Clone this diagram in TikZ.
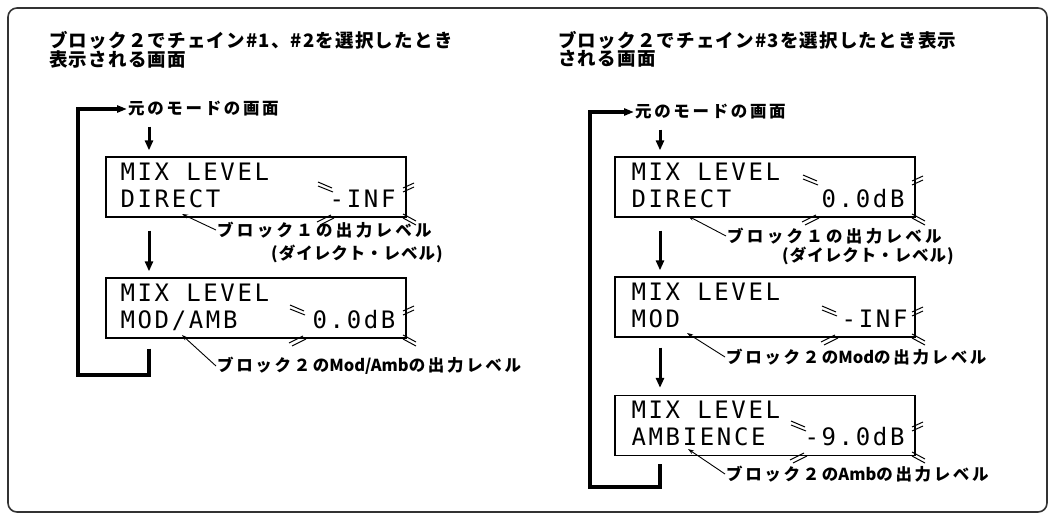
\documentclass[tikz,border=0pt]{standalone}
\usepackage{fontspec}
\usetikzlibrary{arrows.meta,calc}
\newfontfamily\jpt{Noto Sans CJK JP}[LetterSpace=6.5]
\newfontfamily\jpB{Noto Sans CJK JP}[LetterSpace=20]
\newfontfamily\jpC{Noto Sans CJK JP}[LetterSpace=16]
\newfontfamily\jpD{Noto Sans CJK JP}[LetterSpace=6]
\newfontfamily\jpN{Noto Sans CJK JP}
\newfontfamily\lcdf{DejaVu Sans Mono}[LetterSpace=11]
\newcommand\lat[1]{{\jpN\bfseries #1}}
\newcommand\vmarks[4]{%
  \draw[mk] (#1,#2) -- ++(14,6) (#1,#2+4) -- ++(15,6);
  \draw[mk] (#1-1,#3+5) -- ++(14,-7) (#1+2,#3+8) -- ++(14,-7);
  \draw[mk,line width=1.4pt] (#4,#2) -- (#4,#3);
  \draw[mk] (#4-3,#2+6) -- ++(11,-5) (#4-3,#2+10) -- ++(11,-5);
  \draw[mk] (#4-3,#3-3) -- ++(13,7) (#4-3,#3+1) -- ++(13,7);
}
\begin{document}
\begin{tikzpicture}[x=1pt,y=-1pt,
  frame/.style={draw=black!80,line width=1.6pt,rounded corners=9pt},
  title/.style={font=\jpt\bfseries\fontsize{18.5}{15}\selectfont,align=left,inner sep=0pt},
  lbl/.style={font=\jpB\bfseries\fontsize{16.5}{16}\selectfont,inner sep=1pt},
  lblc/.style={font=\jpC\bfseries\fontsize{16.5}{16}\selectfont,inner sep=1pt},
  lbld/.style={font=\jpD\bfseries\fontsize{16.5}{16}\selectfont,inner sep=1pt},
  lcdbox/.style={draw,line width=1.3pt,minimum width=300pt,minimum height=60pt,inner sep=0pt},
  lcd/.style={font=\lcdf\fontsize{24}{24}\selectfont,inner sep=0pt},
  down/.style={line width=3pt,-{Triangle[length=10pt,width=8pt]}},
  loopline/.style={line width=3.2pt,-{Triangle[length=10pt,width=7pt]}},
  annot/.style={line width=0.9pt,-{Stealth[length=6pt,width=4pt]}},
  mk/.style={line width=1pt}]
\useasboundingbox (0,0) rectangle (1055,517);
\draw[frame] (8,8) rectangle (1047,512);

% ---------- left column ----------
\node[title,anchor=north west] (tl) at (49,31) {ブロック２でチェイン\#1、\#2を選択したとき\\表示される画面};
\node[lblc,anchor=west] (ml) at (127,109) {元のモードの画面};
\node[lcdbox] (b1) at (256,187) {};
\node[lcdbox] (b2) at (256,308) {};
\node[lcd,anchor=base west] (b1a) at ($(b1.north west)+(15,24)$) {MIX LEVEL};
\node[lcd,anchor=base west] (b1b) at ($(b1.north west)+(15,51)$) {DIRECT};
\node[lcd,anchor=base east] (b1v) at ($(b1.north east)+(-11,51)$) {-INF};
\node[lcd,anchor=base west] (b2a) at ($(b2.north west)+(15,24)$) {MIX LEVEL};
\node[lcd,anchor=base west] (b2b) at ($(b2.north west)+(15,51)$) {MOD/AMB};
\node[lcd,anchor=base east] (b2v) at ($(b2.north east)+(-11,51)$) {0.0dB};
\vmarks{318}{182}{217}{406}
\vmarks{290}{305}{338}{406}

\coordinate (xl) at (149,0);
\coordinate (lp) at (78,375);
\draw[down,shorten <=9pt,shorten >=6pt] (xl |- ml.south) -- (xl |- b1.north);
\draw[down,shorten <=13pt,shorten >=6pt] (xl |- b1.south) -- (xl |- b2.north);
\draw[loopline,line join=miter] ($(xl |- b2.south)+(0,10)$) -- (xl |- lp) -- (lp) -- (lp |- ml.west) -- (ml.west);

\coordinate (t1) at (182,214);
\coordinate (t2) at (182,335);
\node[lbl,anchor=west] (n1) at (216,230) {ブロック１の出力レベル};
\node[lbld,anchor=west] (n1b) at (270,254) {(ダイレクト・レベル)};
\node[lblc,anchor=west] (n2) at (216,366) {ブロック２の\lat{Mod/Amb}の出力レベル};
\draw[annot] (n1.west) -- (t1);
\draw[annot] (n2.west) -- (t2);

% ---------- right column ----------
\node[title,anchor=north west] (tr) at (558,31) {ブロック２でチェイン\#3を選択したとき表示\\される画面};
\node[lblc,anchor=west] (mr) at (634,112) {元のモードの画面};
\node[lcdbox] (c1) at (765,187) {};
\node[lcdbox] (c2) at (765,307) {};
\node[lcdbox] (c3) at (765,425.5) {};
\node[lcd,anchor=base west] (c1a) at ($(c1.north west)+(17,24)$) {MIX LEVEL};
\node[lcd,anchor=base west] (c1b) at ($(c1.north west)+(17,51)$) {DIRECT};
\node[lcd,anchor=base east] (c1v) at ($(c1.north east)+(-11,51)$) {0.0dB};
\node[lcd,anchor=base west] (c2a) at ($(c2.north west)+(17,24)$) {MIX LEVEL};
\node[lcd,anchor=base west] (c2b) at ($(c2.north west)+(17,51)$) {MOD};
\node[lcd,anchor=base east] (c2v) at ($(c2.north east)+(-8,51)$) {-INF};
\node[lcd,anchor=base west] (c3a) at ($(c3.north west)+(17,24)$) {MIX LEVEL};
\node[lcd,anchor=base west] (c3b) at ($(c3.north west)+(17,51)$) {AMBIENCE};
\node[lcd,anchor=base east] (c3v) at ($(c3.north east)+(-11,51)$) {-9.0dB};
\vmarks{803}{175}{217}{915}
\vmarks{822}{306}{337}{915}
\vmarks{791}{421}{455}{915}

\coordinate (xr) at (660,0);
\coordinate (rp) at (590,487);
\draw[down,shorten <=9pt,shorten >=6pt] (xr |- mr.south) -- (xr |- c1.north);
\draw[down,shorten <=13pt,shorten >=6pt] (xr |- c1.south) -- (xr |- c2.north);
\draw[down,shorten <=10pt,shorten >=7pt] (xr |- c2.south) -- (xr |- c3.north);
\draw[loopline,line join=miter] ($(xr |- c3.south)+(0,8)$) -- (xr |- rp) -- (rp) -- (rp |- mr.west) -- (mr.west);

\coordinate (u1) at (688,216);
\coordinate (u2) at (687,333);
\coordinate (u3) at (688,449);
\node[lbl,anchor=west] (r1) at (726,236) {ブロック１の出力レベル};
\node[lbld,anchor=west] (r1b) at (781,256) {(ダイレクト・レベル)};
\node[lblc,anchor=west] (r2) at (725,357) {ブロック２の\lat{Mod}の出力レベル};
\node[lblc,anchor=west] (r3) at (725,474) {ブロック２の\lat{Amb}の出力レベル};
\draw[annot] (r1.west) -- (u1);
\draw[annot] (r2.west) -- (u2);
\draw[annot] (r3.west) -- (u3);
\end{tikzpicture}
\end{document}
